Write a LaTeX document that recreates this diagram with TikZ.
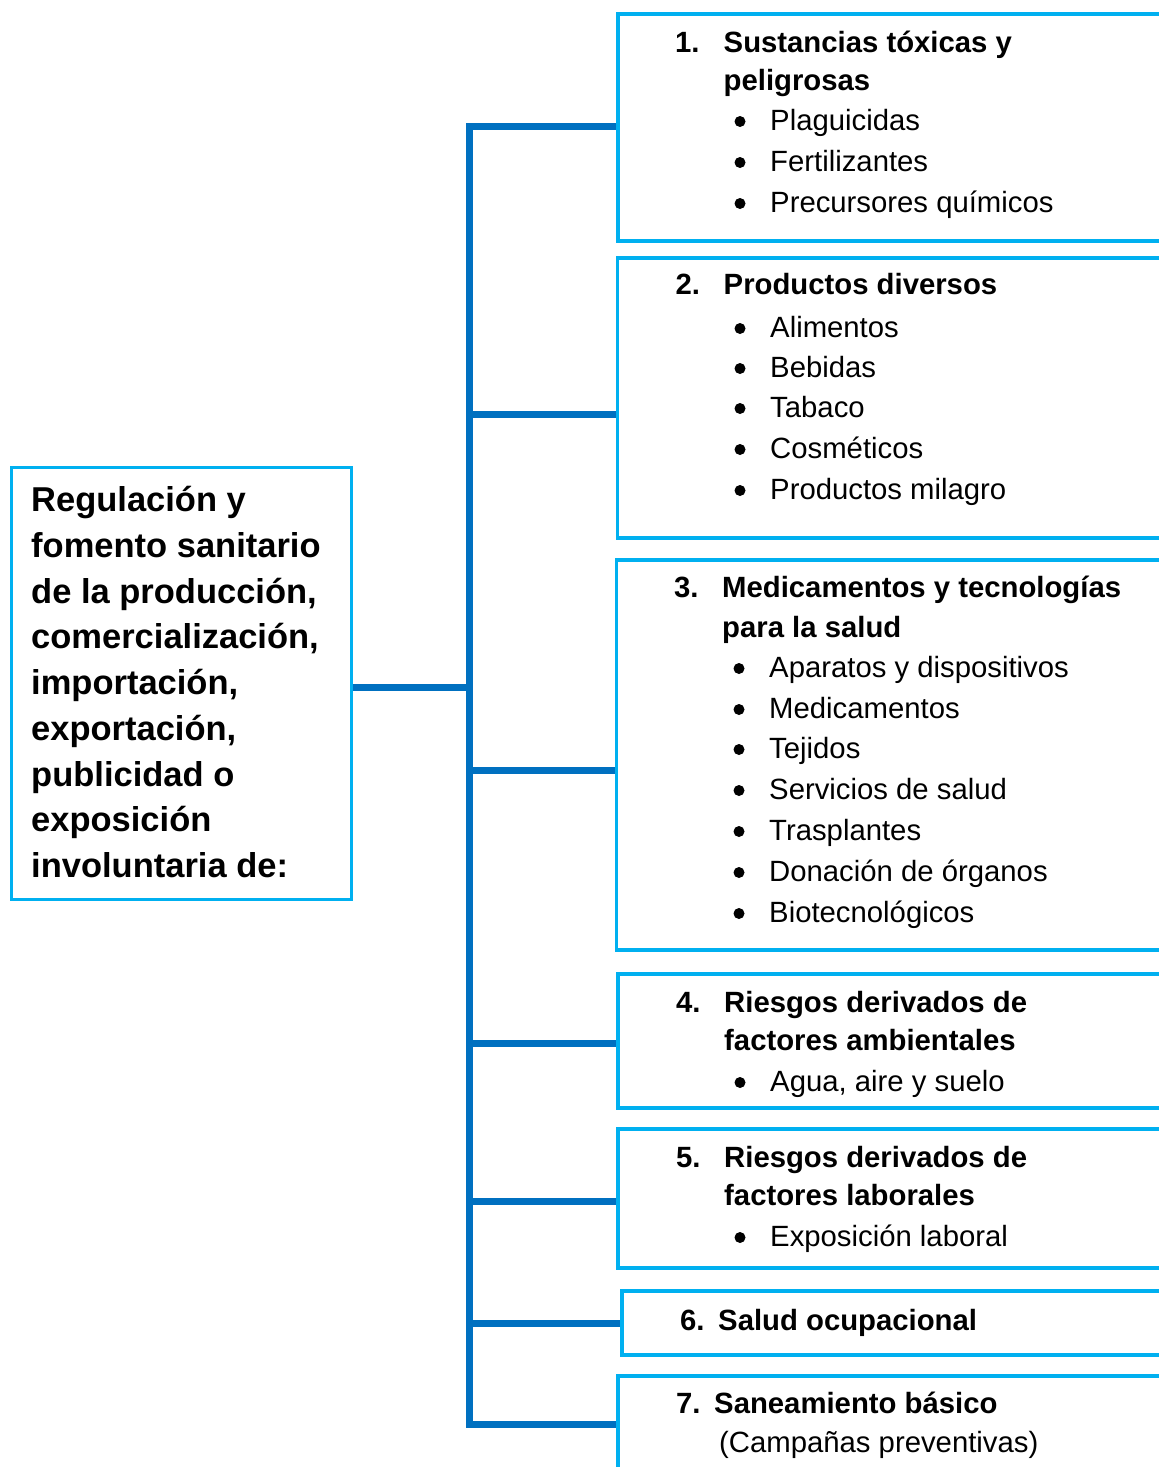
\documentclass[tikz,border=0pt]{standalone}
\usepackage{fontspec}
\setmainfont{Liberation Sans}
\definecolor{boxblue}{HTML}{00B0F0}
\definecolor{trunkblue}{HTML}{0070C0}
\begin{document}
\begin{tikzpicture}[x=1pt,y=-1pt,
  link/.style={draw=trunkblue, line width=7pt, line join=miter},
  frame/.style={draw=boxblue, line width=3.3pt, rectangle, inner sep=0pt, outer sep=0pt},
  lead/.style={anchor=base west, inner sep=0pt, font=\fontsize{34.5}{46}\selectfont\bfseries},
  head/.style={anchor=base west, inner sep=0pt, font=\fontsize{29.3}{35}\selectfont\bfseries},
  entry/.style={anchor=base west, inner sep=0pt, font=\fontsize{29.3}{35}\selectfont},
  dot/.style={circle, fill=black, inner sep=0pt, minimum size=11pt, yshift=8.5pt}]
\clip (0,0) rectangle (1159,1467);
\fill[white] (0,0) rectangle (1159,1467);

% boxes (positions only, outlines drawn after the connectors)
\path
  node[frame, minimum width=340pt, minimum height=432pt, anchor=north west] (root) at (11.5,467.5) {}
  node[frame, minimum width=562pt, minimum height=227pt, anchor=north west] (b1) at (618,14) {}
  node[frame, minimum width=562pt, minimum height=280pt, anchor=north west] (b2) at (617.5,258) {}
  node[frame, minimum width=562pt, minimum height=390pt, anchor=north west] (b3) at (616.5,560) {}
  node[frame, minimum width=562pt, minimum height=134pt, anchor=north west] (b4) at (618,974) {}
  node[frame, minimum width=562pt, minimum height=139pt, anchor=north west] (b5) at (618,1129) {}
  node[frame, minimum width=562pt, minimum height=64pt, anchor=north west] (b6) at (622,1291) {}
  node[frame, minimum width=562pt, minimum height=120pt, anchor=north west] (b7) at (618,1376) {};

% junctions on the trunk
\coordinate (j0) at (469,687);
\coordinate (j1) at (469,126);
\coordinate (j2) at (469,414);
\coordinate (j3) at (469,770);
\coordinate (j4) at (469,1043);
\coordinate (j5) at (469,1201);
\coordinate (j6) at (469,1323);
\coordinate (j7) at (469,1424);

% connectors
\draw[link] (j1 -| b1.west) -- (j1) -- (j7) -- (j7 -| b7.west);
\draw[link] (root.east |- j0) -- (j0);
\draw[link] (j2) -- (j2 -| b2.west);
\draw[link] (j3) -- (j3 -| b3.west);
\draw[link] (j4) -- (j4 -| b4.west);
\draw[link] (j5) -- (j5 -| b5.west);
\draw[link] (j6) -- (j6 -| b6.west);

% box outlines on top
\foreach \b in {root,b1,b2,b3,b4,b5,b6,b7}
  \draw[boxblue, line width=3.3pt] (\b.north west) rectangle (\b.south east);

% main label
\node[lead] (r1) at (31,511) {Regulación y};
\node[lead] (r2) at (31,557) {fomento sanitario};
\node[lead] (r3) at (31,603) {de la producción,};
\node[lead] (r4) at (31,648) {comercialización,};
\node[lead] (r5) at (31,694) {importación,};
\node[lead] (r6) at (31,740) {exportación,};
\node[lead] (r7) at (31,786) {publicidad o};
\node[lead] (r8) at (31,831) {exposición};
\node[lead] (r9) at (31,877) {involuntaria de:};

% 1
\node[head] (n1) at (675,52) {1.};
\node[head] (h1a) at (723.5,52) {Sustancias tóxicas y};
\node[head] (h1b) at (723.5,90) {peligrosas};
\node[dot] (d11) at (740,130) {}; \node[entry] (e11) at (770,130) {Plaguicidas};
\node[dot] (d12) at (740,171) {}; \node[entry] (e12) at (770,171) {Fertilizantes};
\node[dot] (d13) at (740,212) {}; \node[entry] (e13) at (770,212) {Precursores químicos};

% 2
\node[head] (n2) at (675.5,294) {2.};
\node[head] (h2a) at (723.5,294) {Productos diversos};
\node[dot] (d21) at (740,337) {}; \node[entry] (e21) at (770,337) {Alimentos};
\node[dot] (d22) at (740,377) {}; \node[entry] (e22) at (770,377) {Bebidas};
\node[dot] (d23) at (740,417) {}; \node[entry] (e23) at (770,417) {Tabaco};
\node[dot] (d24) at (740,458) {}; \node[entry] (e24) at (770,458) {Cosméticos};
\node[dot] (d25) at (740,499) {}; \node[entry] (e25) at (770,499) {Productos milagro};

% 3
\node[head] (n3) at (674,597) {3.};
\node[head] (h3a) at (722,597) {Medicamentos y tecnologías};
\node[head] (h3b) at (722,637) {para la salud};
\node[dot] (d31) at (739,677) {}; \node[entry] (e31) at (769,677) {Aparatos y dispositivos};
\node[dot] (d32) at (739,718) {}; \node[entry] (e32) at (769,718) {Medicamentos};
\node[dot] (d33) at (739,758) {}; \node[entry] (e33) at (769,758) {Tejidos};
\node[dot] (d34) at (739,799) {}; \node[entry] (e34) at (769,799) {Servicios de salud};
\node[dot] (d35) at (739,840) {}; \node[entry] (e35) at (769,840) {Trasplantes};
\node[dot] (d36) at (739,881) {}; \node[entry] (e36) at (769,881) {Donación de órganos};
\node[dot] (d37) at (739,922) {}; \node[entry] (e37) at (769,922) {Biotecnológicos};

% 4
\node[head] (n4) at (676,1012) {4.};
\node[head] (h4a) at (724,1012) {Riesgos derivados de};
\node[head] (h4b) at (724,1050) {factores ambientales};
\node[dot] (d41) at (740,1091) {}; \node[entry] (e41) at (770,1091) {Agua, aire y suelo};

% 5
\node[head] (n5) at (676,1167) {5.};
\node[head] (h5a) at (724,1167) {Riesgos derivados de};
\node[head] (h5b) at (724,1205) {factores laborales};
\node[dot] (d51) at (740,1246) {}; \node[entry] (e51) at (770,1246) {Exposición laboral};

% 6
\node[head] (n6) at (680,1330) {6.};
\node[head] (h6a) at (718,1330) {Salud ocupacional};

% 7
\node[head] (n7) at (676,1413) {7.};
\node[head] (h7a) at (714,1413) {Saneamiento básico};
\node[entry] (e71) at (719,1452) {(Campañas preventivas)};
\end{tikzpicture}
\end{document}
